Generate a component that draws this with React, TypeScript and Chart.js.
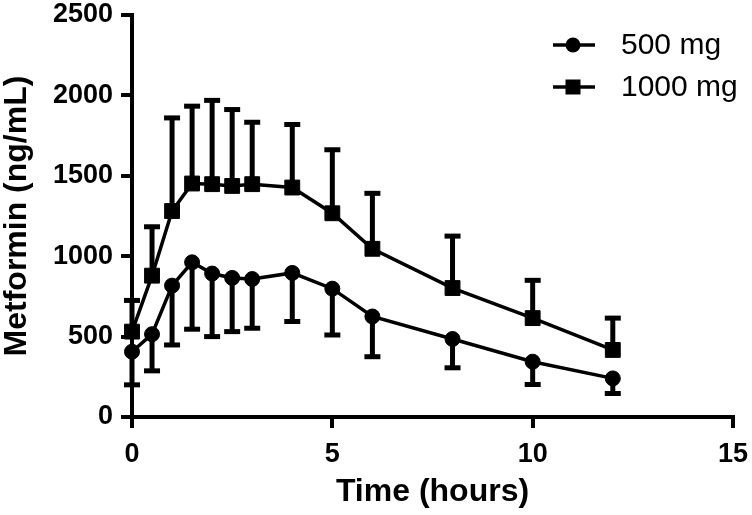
import React, { useEffect, useRef } from 'react';
import { Chart, registerables } from 'chart.js';

Chart.register(...registerables);

// ---- data ----
const times = [0, 0.5, 1, 1.5, 2, 2.5, 3, 4, 5, 6, 8, 10, 12];
const mean500 = [406, 515, 817, 962, 892, 865, 858, 896, 798, 625, 485, 344, 240];
const sd500 = [206, 228, 369, 416, 392, 334, 306, 302, 288, 250, 179, 142, 94];
const mean1000 = [531, 879, 1281, 1452, 1448, 1437, 1448, 1427, 1267, 1046, 802, 615, 417];
const sd1000 = [194, 304, 579, 481, 521, 475, 385, 392, 395, 345, 323, 235, 198];
const seriesLabels = ['500 mg', '1000 mg'];
const xTitle = 'Time (hours)';
const yTitle = 'Metformin (ng/mL)';
const xRange = [0, 15];
const xStep = 5;
const yRange = [0, 2500];
const yStep = 500;

const FONT = "'Liberation Sans', Arial, Helvetica, sans-serif";

const errorBarPlugin = {
  id: 'errorBars',
  beforeDatasetsDraw(chart: any) {
    const ctx = chart.ctx;
    const xs = chart.scales.x;
    const ys = chart.scales.y;
    chart.data.datasets.forEach((ds: any) => {
      const errs: number[] = ds.errors;
      const dir: number = ds.errorDir;
      ctx.save();
      ctx.strokeStyle = '#000';
      ctx.lineWidth = 5;
      ctx.lineCap = 'butt';
      ds.data.forEach((p: any, i: number) => {
        const px = xs.getPixelForValue(p.x);
        const py = ys.getPixelForValue(p.y);
        const ey = ys.getPixelForValue(p.y + dir * errs[i]);
        ctx.beginPath();
        ctx.moveTo(px, py);
        ctx.lineTo(px, ey);
        ctx.stroke();
        ctx.beginPath();
        ctx.moveTo(px - 8, ey);
        ctx.lineTo(px + 8, ey);
        ctx.stroke();
      });
      ctx.restore();
    });
  },
};

const legendPlugin = {
  id: 'customLegend',
  afterDraw(chart: any) {
    const ctx = chart.ctx;
    ctx.save();
    const rows = [45, 87];
    chart.data.datasets.forEach((ds: any, i: number) => {
      const y = rows[i];
      ctx.strokeStyle = '#000';
      ctx.lineWidth = 3.5;
      ctx.beginPath();
      ctx.moveTo(553, y);
      ctx.lineTo(595, y);
      ctx.stroke();
      ctx.fillStyle = '#000';
      if (ds.pointStyle === 'circle') {
        ctx.beginPath();
        ctx.arc(573, y, 7.5, 0, Math.PI * 2);
        ctx.fill();
      } else {
        ctx.fillRect(573 - 7.5, y - 7.5, 15, 15);
      }
      ctx.font = `30px ${FONT}`;
      ctx.textBaseline = 'middle';
      ctx.textAlign = 'left';
      ctx.fillText(ds.label, 621, y + 1);
    });
    ctx.restore();
  },
};

export default function App() {
  const ref = useRef<HTMLCanvasElement | null>(null);

  useEffect(() => {
    document.body.style.margin = '0';
    const canvas = ref.current;
    if (!canvas) return;
    const mk = (ys: number[]) => times.map((t, i) => ({ x: t, y: ys[i] }));
    const chart = new Chart(canvas, {
      type: 'line',
      data: {
        datasets: [
          {
            label: seriesLabels[0],
            data: mk(mean500),
            errors: sd500,
            errorDir: -1,
            borderColor: '#000',
            backgroundColor: '#000',
            borderWidth: 3.5,
            pointStyle: 'circle',
            pointRadius: 7.5,
            pointBorderWidth: 1,
            pointBackgroundColor: '#000',
            pointBorderColor: '#000',
            tension: 0,
            clip: false,
          } as any,
          {
            label: seriesLabels[1],
            data: mk(mean1000),
            errors: sd1000,
            errorDir: 1,
            borderColor: '#000',
            backgroundColor: '#000',
            borderWidth: 3.5,
            pointStyle: 'rect',
            pointRadius: 10.5,
            pointBorderWidth: 1,
            pointBackgroundColor: '#000',
            pointBorderColor: '#000',
            tension: 0,
            clip: false,
          } as any,
        ],
      },
      options: {
        animation: false,
        responsive: false,
        devicePixelRatio: 1,
        layout: { padding: { top: 15, right: 19, left: 0, bottom: 0 } },
        plugins: {
          legend: { display: false },
          tooltip: { enabled: false },
        },
        scales: {
          x: {
            type: 'linear',
            min: xRange[0],
            max: xRange[1],
            afterFit(scale: any) {
              scale.height = 98;
              scale.paddingLeft = 0;
              scale.paddingRight = 0;
            },
            ticks: {
              stepSize: xStep,
              color: '#000',
              padding: 13,
              maxRotation: 0,
              callback: (v: any) => String(v),
              font: { family: FONT, size: 27, weight: 'bold', lineHeight: 1.0 },
            },
            grid: {
              drawOnChartArea: false,
              drawTicks: true,
              tickLength: 11,
              color: '#000',
              lineWidth: 4,
            },
            border: { display: true, color: '#000', width: 4 },
            title: {
              display: true,
              text: xTitle,
              color: '#000',
              font: { family: FONT, size: 32, weight: 'bold', lineHeight: 1.2 },
              padding: { top: 0, bottom: 4 },
            },
          },
          y: {
            type: 'linear',
            min: yRange[0],
            max: yRange[1],
            afterFit(scale: any) {
              scale.width = 132;
              scale.paddingTop = 0;
              scale.paddingBottom = 0;
            },
            ticks: {
              stepSize: yStep,
              color: '#000',
              padding: 8,
              callback: (v: any) => String(v),
              font: { family: FONT, size: 27, weight: 'bold', lineHeight: 1.0 },
            },
            grid: {
              drawOnChartArea: false,
              drawTicks: true,
              tickLength: 11,
              color: '#000',
              lineWidth: 4,
            },
            border: { display: true, color: '#000', width: 4 },
            title: {
              display: true,
              text: yTitle,
              color: '#000',
              font: { family: FONT, size: 32, weight: 'bold', lineHeight: 1.0 },
              padding: { top: 1, bottom: 0 },
            },
          },
        },
      } as any,
      plugins: [errorBarPlugin, legendPlugin],
    });
    return () => chart.destroy();
  }, []);

  return (
    <div style={{ width: 752, height: 515, background: '#fff' }}>
      <canvas ref={ref} width={752} height={515} style={{ display: 'block' }} />
    </div>
  );
}
